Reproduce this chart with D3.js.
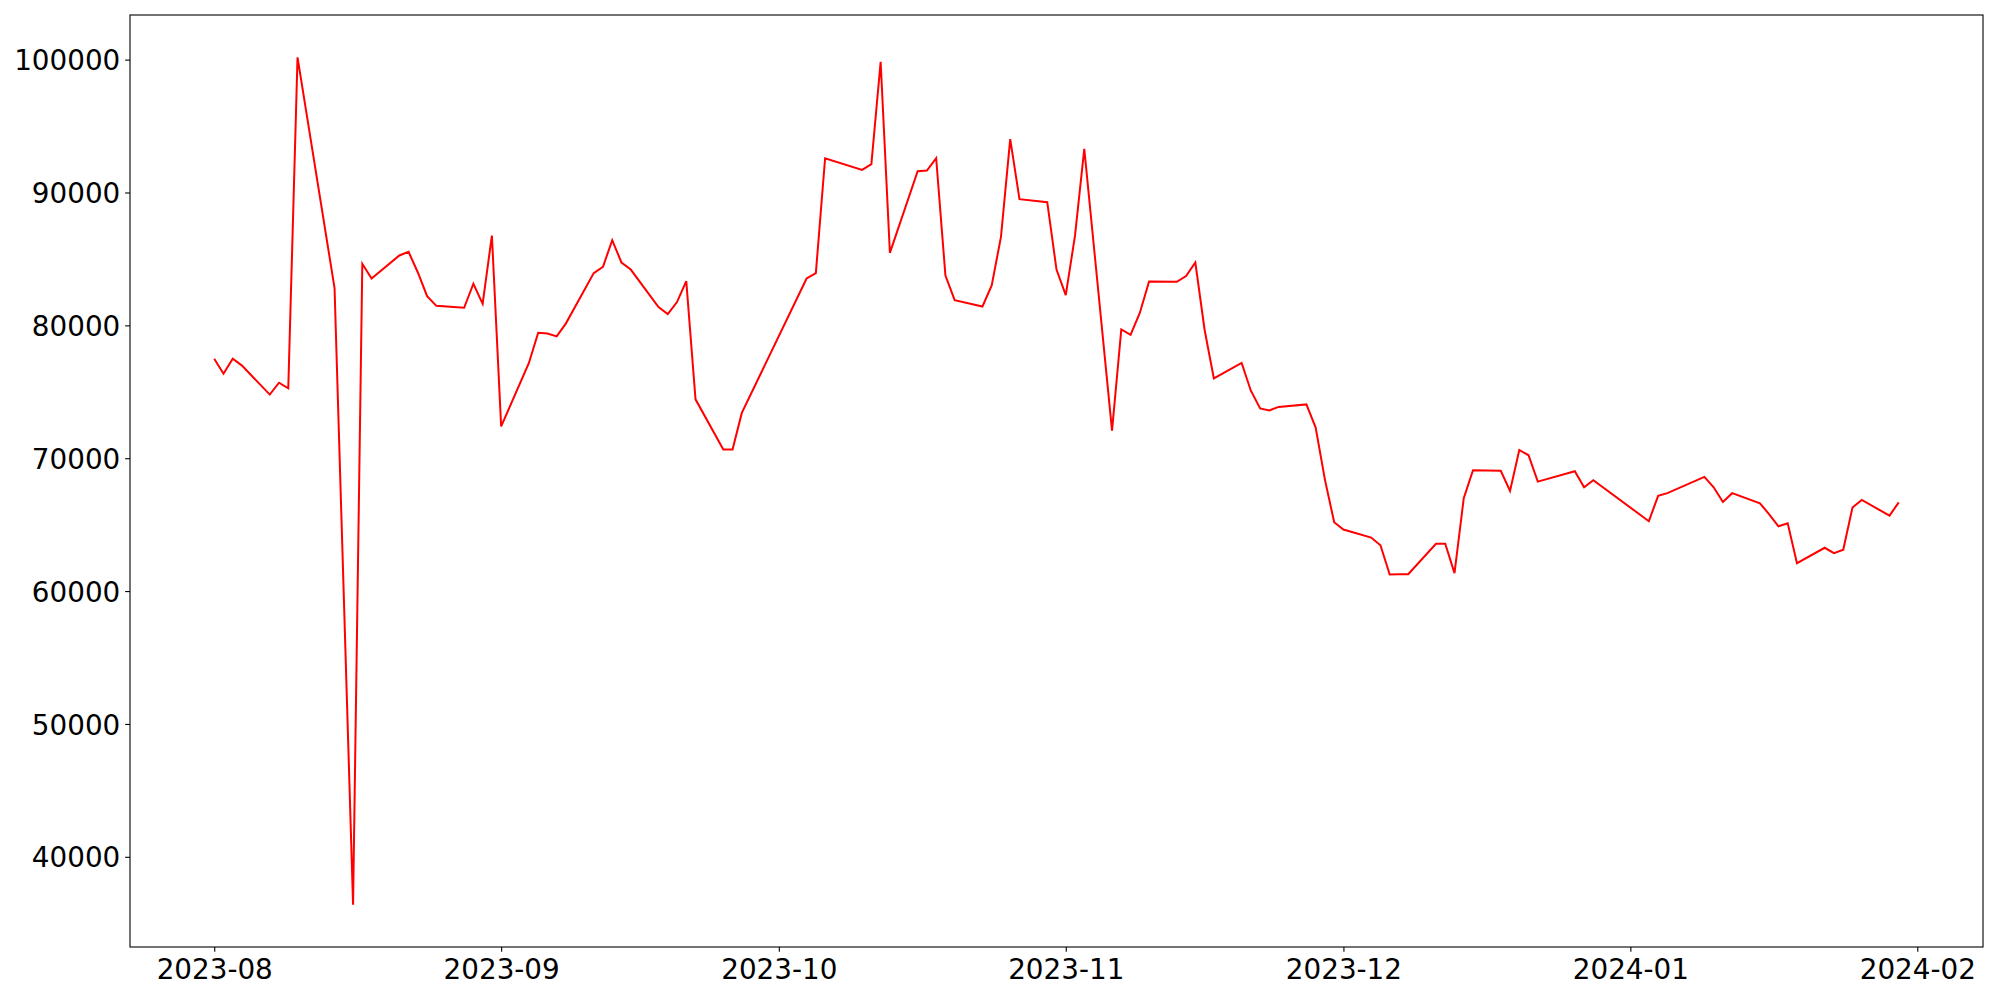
<!DOCTYPE html>
<html>
<head>
<meta charset="utf-8">
<script src="https://cdn.jsdelivr.net/npm/d3@7"></script>
<style>
  html, body { margin: 0; padding: 0; background: #fff; }
  svg { display: block; }
  .tick text { font-family: "DejaVu Sans", sans-serif; }
</style>
</head>
<body>
<svg id="chart" width="2000" height="1000"></svg>
<script>
// ---- Data ----
const dates = [
  "2023-08-01","2023-08-02","2023-08-03","2023-08-04","2023-08-07","2023-08-08","2023-08-09","2023-08-10",
  "2023-08-14","2023-08-16","2023-08-17","2023-08-18","2023-08-21","2023-08-22","2023-08-23","2023-08-24",
  "2023-08-25","2023-08-28","2023-08-29","2023-08-30","2023-08-31","2023-09-01","2023-09-04","2023-09-05",
  "2023-09-06","2023-09-07","2023-09-08","2023-09-11","2023-09-12","2023-09-13","2023-09-14","2023-09-15",
  "2023-09-18","2023-09-19","2023-09-20","2023-09-21","2023-09-22","2023-09-25","2023-09-26","2023-09-27",
  "2023-10-04","2023-10-05","2023-10-06","2023-10-10","2023-10-11","2023-10-12","2023-10-13","2023-10-16",
  "2023-10-17","2023-10-18","2023-10-19","2023-10-20","2023-10-23","2023-10-24","2023-10-25","2023-10-26",
  "2023-10-27","2023-10-30","2023-10-31","2023-11-01","2023-11-02","2023-11-03","2023-11-06","2023-11-07",
  "2023-11-08","2023-11-09","2023-11-10","2023-11-13","2023-11-14","2023-11-15","2023-11-16","2023-11-17",
  "2023-11-20","2023-11-21","2023-11-22","2023-11-23","2023-11-24","2023-11-27","2023-11-28","2023-11-29",
  "2023-11-30","2023-12-01","2023-12-04","2023-12-05","2023-12-06","2023-12-07","2023-12-08","2023-12-11",
  "2023-12-12","2023-12-13","2023-12-14","2023-12-15","2023-12-18","2023-12-19","2023-12-20","2023-12-21",
  "2023-12-22","2023-12-26","2023-12-27","2023-12-28","2024-01-03","2024-01-04","2024-01-05","2024-01-09",
  "2024-01-10","2024-01-11","2024-01-12","2024-01-15","2024-01-16","2024-01-17","2024-01-18","2024-01-19",
  "2024-01-22","2024-01-23","2024-01-24","2024-01-25","2024-01-26","2024-01-29","2024-01-30"
];
const values = [
  77490, 76360, 77490, 76970, 74790, 75680, 75260, 100170,
  82800, 36400, 84630, 83530, 85260, 85530, 83980, 82200,
  81470, 81320, 83130, 81620, 86760, 72400, 77170, 79440,
  79390, 79170, 80150, 83930, 84410, 86410, 84730, 84200,
  81380, 80850, 81750, 83330, 74430, 70650, 70650, 73410,
  83530, 83930, 92580, 91700, 92130, 99840, 85460, 91600,
  91650, 92580, 83750, 81900, 81420, 83000, 86660, 94010,
  89500, 89270, 84200, 82280, 86750, 93290, 72080, 79690,
  79290, 80930, 83300, 83280, 83710, 84730, 79670, 76010,
  77170, 75080, 73750, 73600, 73860, 74050, 72310, 68390,
  65180, 64630, 64030, 63450, 61250, 61260, 61270, 63560,
  63560, 61350, 66990, 69090, 69050, 67540, 70620, 70220,
  68240, 69020, 67810, 68340, 65260, 67170, 67370, 68590,
  67810, 66710, 67370, 66610, 65780, 64880, 65110, 62100,
  63260, 62850, 63110, 66290, 66860, 65680, 66680
];
const xTickLabels = ["2023-08","2023-09","2023-10","2023-11","2023-12","2024-01","2024-02"];
const yTickValues = [40000, 50000, 60000, 70000, 80000, 90000, 100000];

// ---- Layout ----
const W = 2000, H = 1000;
const plot = { left: 130, right: 1983, top: 15, bottom: 947 };
const fontPx = 27.8;
const tickLen = 4.86, tickPad = 4.86;

const parse = d3.timeParse("%Y-%m-%d");
const parseMonth = d3.timeParse("%Y-%m");
const data = dates.map((d, i) => ({ date: parse(d), value: values[i] }));

// matplotlib-like 5% margins
const xExt = d3.extent(data, d => d.date);
const xSpan = xExt[1] - xExt[0];
const x = d3.scaleTime()
  .domain([new Date(+xExt[0] - 0.05 * xSpan), new Date(+xExt[1] + 0.05 * xSpan)])
  .range([plot.left, plot.right]);

const yExt = d3.extent(values);
const ySpan = yExt[1] - yExt[0];
const y = d3.scaleLinear()
  .domain([yExt[0] - 0.05 * ySpan, yExt[1] + 0.05 * ySpan])
  .range([plot.bottom, plot.top]);

const svg = d3.select("#chart");
svg.append("rect").attr("width", W).attr("height", H).attr("fill", "#fff");

// Line
const line = d3.line().x(d => x(d.date)).y(d => y(d.value));
svg.append("path")
  .datum(data)
  .attr("fill", "none")
  .attr("stroke", "#ff0000")
  .attr("stroke-width", 2)
  .attr("stroke-linejoin", "miter")
  .attr("d", line);

// X axis
const xAxis = d3.axisBottom(x)
  .tickValues(xTickLabels.map(parseMonth))
  .tickFormat(d3.timeFormat("%Y-%m"))
  .tickSizeInner(tickLen)
  .tickSizeOuter(0)
  .tickPadding(tickPad);
const gx = svg.append("g")
  .attr("transform", `translate(0,${plot.bottom})`)
  .call(xAxis);
gx.select(".domain").remove();
gx.selectAll(".tick line").attr("stroke", "#000").attr("stroke-width", 1.1);
gx.selectAll(".tick text")
  .attr("fill", "#000")
  .attr("font-size", fontPx)
  .attr("font-family", "DejaVu Sans, sans-serif")
  .attr("dy", null)
  .attr("y", 32);

// Y axis
const yAxis = d3.axisLeft(y)
  .tickValues(yTickValues)
  .tickFormat(d3.format("d"))
  .tickSizeInner(tickLen)
  .tickSizeOuter(0)
  .tickPadding(tickPad);
const gy = svg.append("g")
  .attr("transform", `translate(${plot.left},0)`)
  .call(yAxis);
gy.select(".domain").remove();
gy.selectAll(".tick line").attr("stroke", "#000").attr("stroke-width", 1.1);
gy.selectAll(".tick text")
  .attr("fill", "#000")
  .attr("font-size", fontPx)
  .attr("font-family", "DejaVu Sans, sans-serif")
  .attr("dy", null)
  .attr("y", 10.1);

// Frame (spines)
svg.append("rect")
  .attr("x", plot.left).attr("y", plot.top)
  .attr("width", plot.right - plot.left).attr("height", plot.bottom - plot.top)
  .attr("fill", "none").attr("stroke", "#000").attr("stroke-width", 1.1);
</script>
</body>
</html>
